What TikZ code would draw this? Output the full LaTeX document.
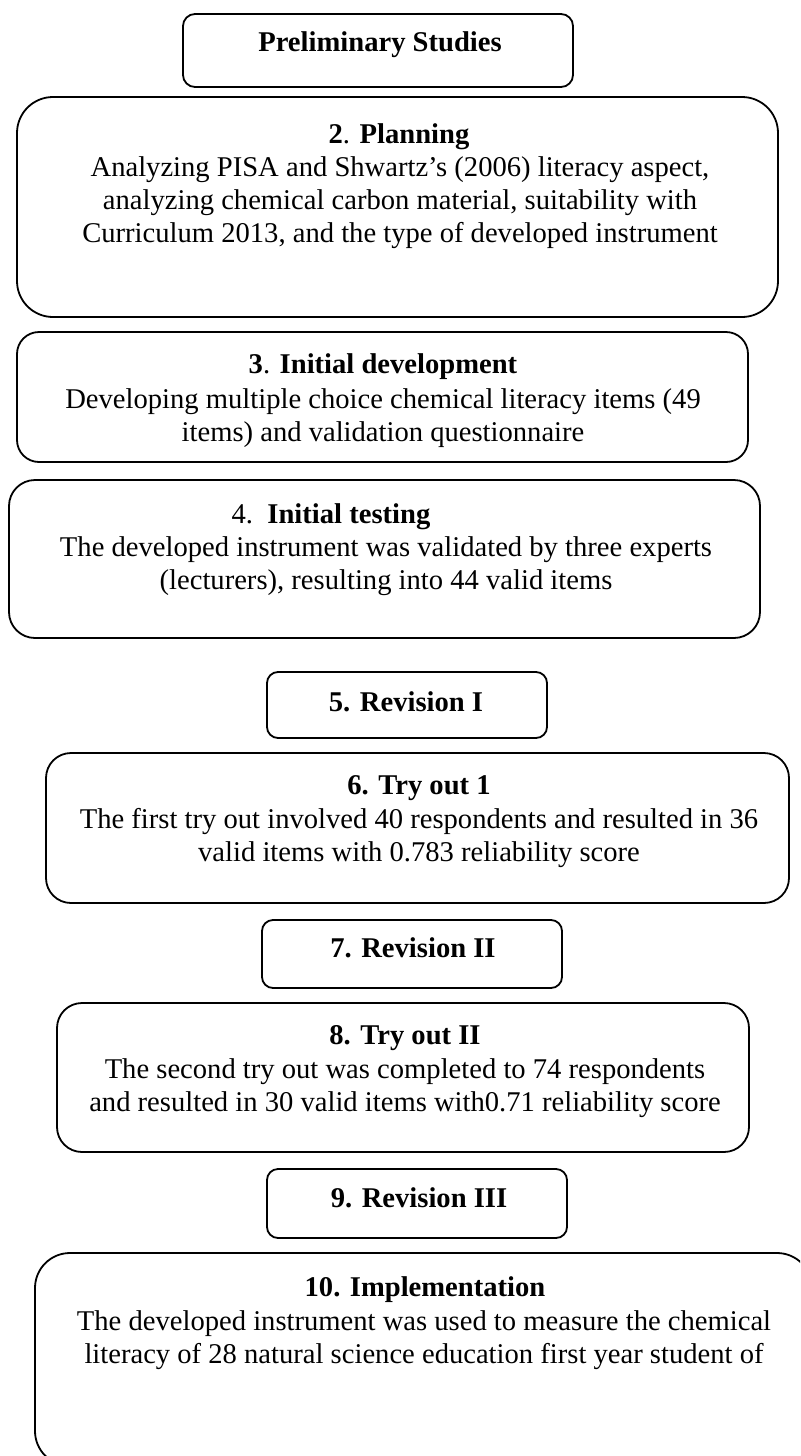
\documentclass[tikz,border=0pt]{standalone}
\usepackage{fontspec}
\setmainfont{Liberation Serif}

\begin{document}
\begin{tikzpicture}[
    x=0.5pt, y=-0.5pt,
    stage/.style={draw, line width=0.9pt, rounded corners=#1, inner sep=0pt},
    stage/.default=6pt,
    head/.style={font=\fontsize{14.3}{16.5}\selectfont\bfseries, inner sep=0pt},
    body/.style={font=\fontsize{14.3}{16.5}\selectfont, align=center, inner sep=0pt}]
  \clip (0,0) rectangle (800,1456);
  % boxes
  \node[stage=6pt, minimum width=195pt, minimum height=36.5pt] (prelim) at (378,50.5) {};
  \node[stage=18pt, minimum width=380.5pt, minimum height=110pt] (plan) at (397.5,207) {};
  \node[stage=11pt, minimum width=365.5pt, minimum height=65pt] (dev) at (382.5,397) {};
  \node[stage=13pt, minimum width=375.5pt, minimum height=79pt] (test) at (384.5,559) {};
  \node[stage=5.5pt, minimum width=140pt, minimum height=33pt] (rev1) at (407,705) {};
  \node[stage=12.5pt, minimum width=371.5pt, minimum height=75pt] (try1) at (417.5,828) {};
  \node[stage=5.5pt, minimum width=150pt, minimum height=34pt] (rev2) at (412,954) {};
  \node[stage=12.5pt, minimum width=346pt, minimum height=74.5pt] (try2) at (403,1077.5) {};
  \node[stage=5.5pt, minimum width=150pt, minimum height=34.5pt] (rev3) at (417,1203.5) {};
  \node[stage=17.5pt, minimum width=388.5pt, minimum height=106.5pt] (impl) at (423.5,1359.5) {};
  % texts
  \node[head] (prelim-t) at (380,45) {Preliminary Studies};
  \node[head] (plan-t) at (399,137) {2\textmd{.} Planning};
  \node[body] (plan-b) at (400,202.5) {Analyzing PISA and Shwartz’s (2006) literacy aspect,\\
    analyzing chemical carbon material, suitability with\\
    Curriculum 2013, and the type of developed instrument};
  \node[head] (dev-t) at (383,367) {3\textmd{.} Initial development};
  \node[body] (dev-b) at (383,418) {Developing multiple choice chemical literacy items (49\\
    items) and validation questionnaire};
  \node[head] (test-t) at (331,517) {\textmd{4.}\ \ Initial testing};
  \node[body] (test-b) at (386,566) {The developed instrument was validated by three experts\\
    (lecturers), resulting into 44 valid items};
  \node[head] (rev1-t) at (406,702) {5. Revision I};
  \node[head] (try1-t) at (419,788) {6. Try out 1};
  \node[body] (try1-b) at (419,838) {The first try out involved 40 respondents and resulted in 36\\
    valid items with 0.783 reliability score};
  \node[head] (rev2-t) at (413,948) {7. Revision II};
  \node[head] (try2-t) at (405,1038) {8. Try out II};
  \node[body] (try2-b) at (405,1088.5) {The second try out was completed to 74 respondents\\
    and resulted in 30 valid items with0.71 reliability score};
  \node[head] (rev3-t) at (419,1198) {9. Revision III};
  \node[head] (impl-t) at (425,1290) {10. Implementation};
  \node[body] (impl-b) at (424,1340) {The developed instrument was used to measure the chemical\\
    literacy of 28 natural science education first year student of};
\end{tikzpicture}
\end{document}
